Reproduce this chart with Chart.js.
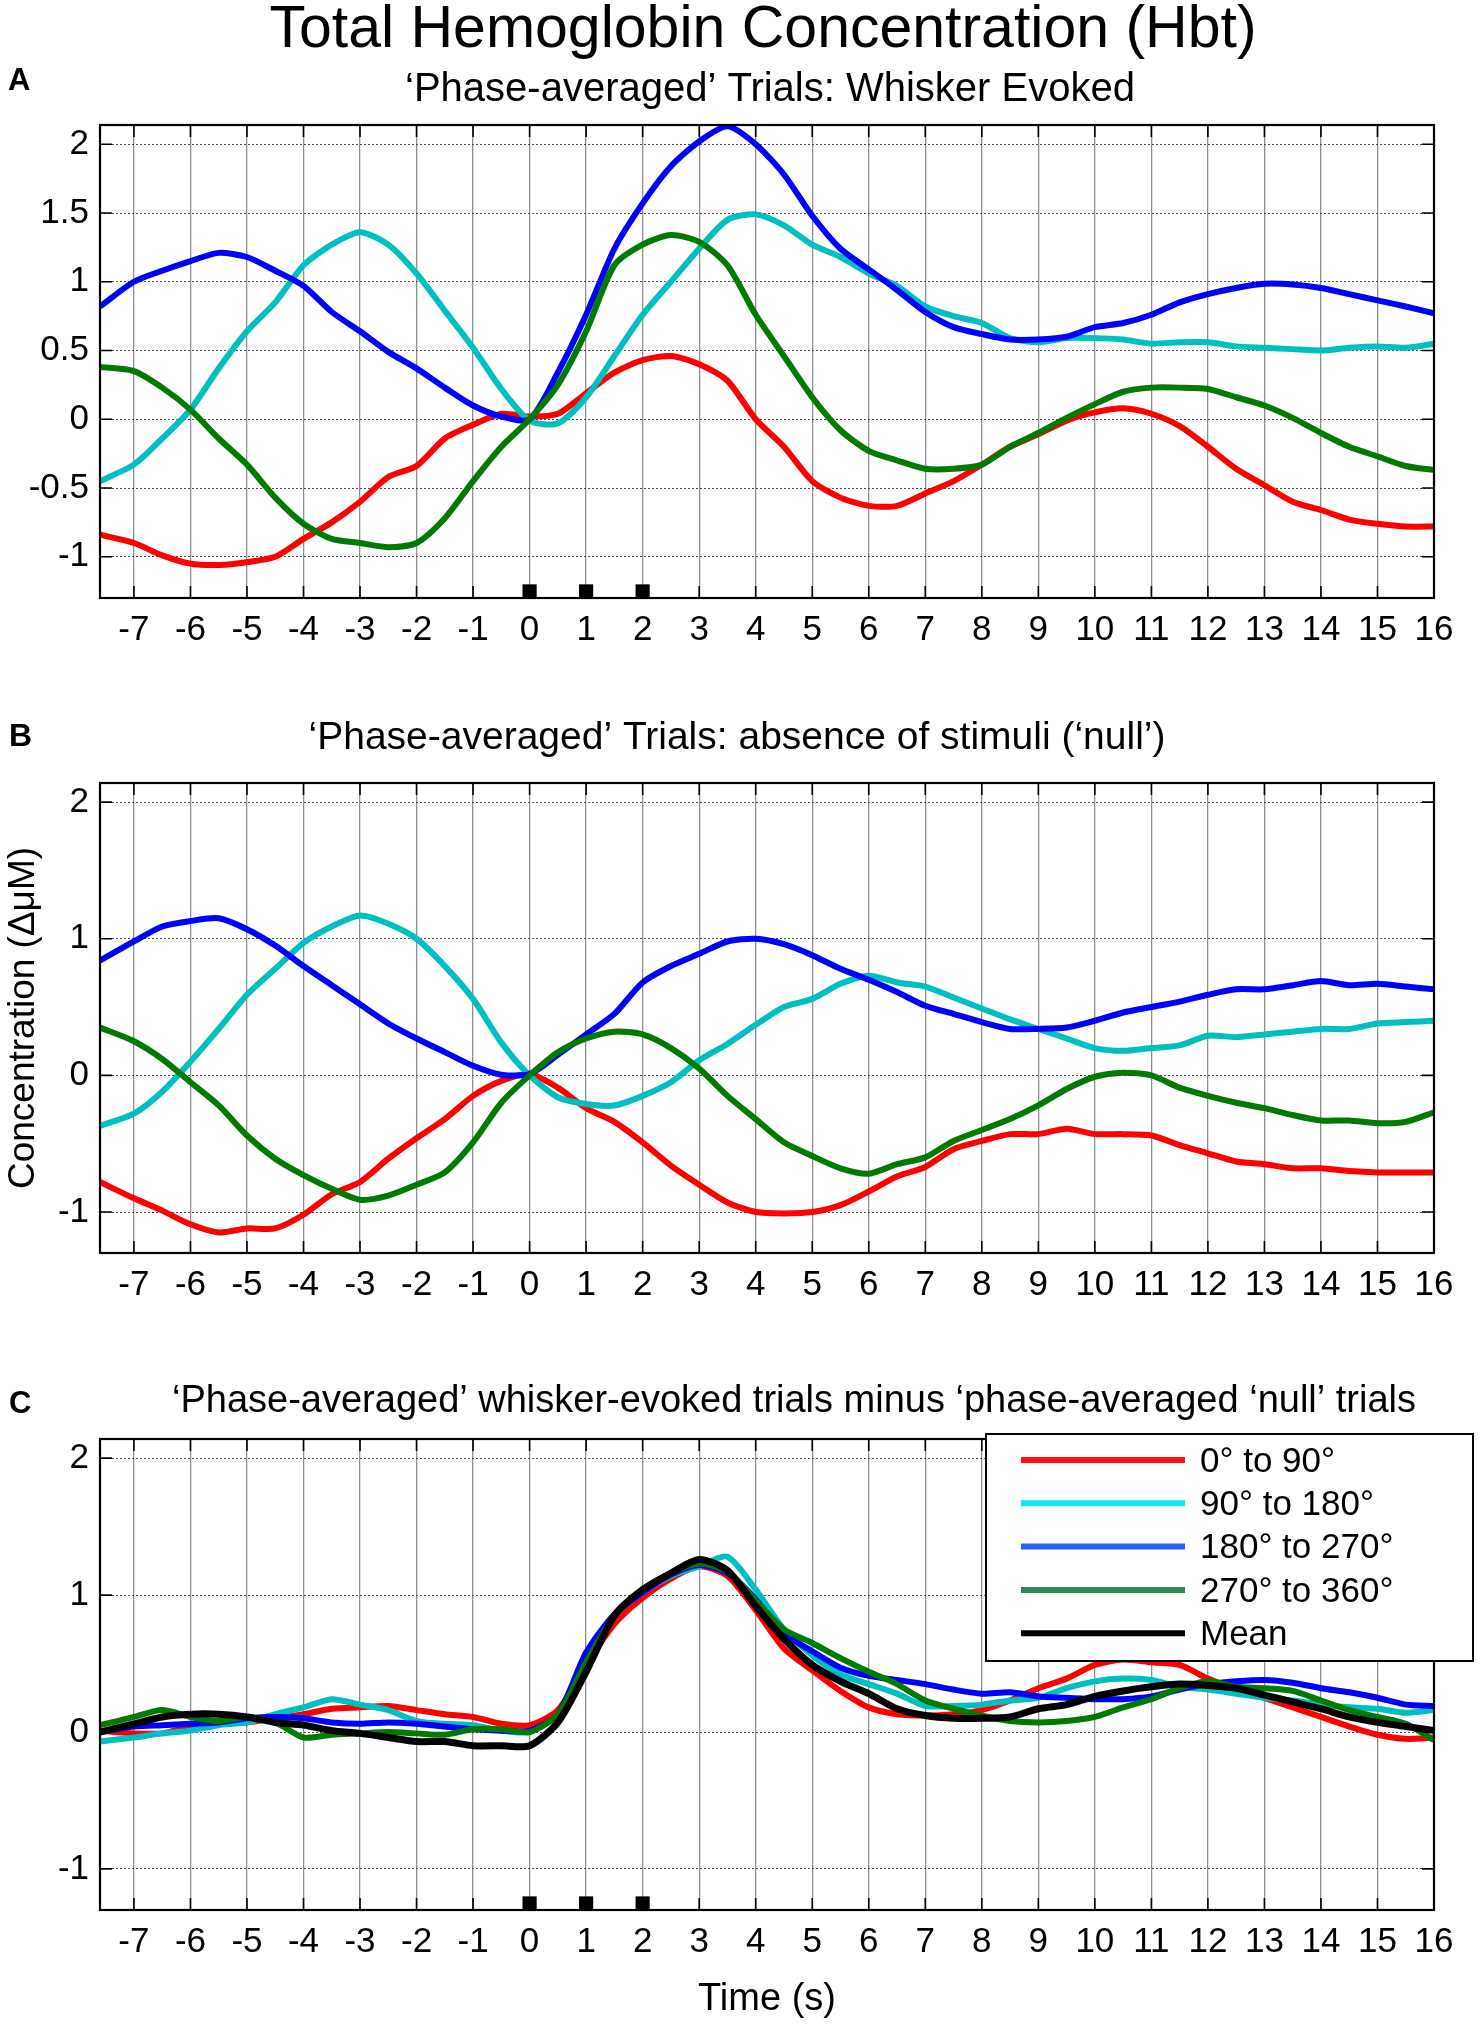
<!DOCTYPE html>
<html>
<head>
<meta charset="utf-8">
<script src="https://cdn.jsdelivr.net/npm/chart.js@4.4.1/dist/chart.umd.min.js"></script>
<style>
  html, body { margin: 0; padding: 0; background: #fff; }
  #wrap { position: relative; width: 1479px; height: 2024px; }
  canvas { position: absolute; left: 0; }
</style>
</head>
<body>
<div id="wrap">
  <canvas id="panelA" width="1479" height="658" style="top:0px"></canvas>
  <canvas id="panelB" width="1479" height="655" style="top:658px"></canvas>
  <canvas id="panelC" width="1479" height="711" style="top:1313px"></canvas>
</div>
<script>
// time base (s), shared by all three panels
const timeS = [-7.6, -7, -6.5, -6, -5.5, -5, -4.5, -4, -3.5, -3, -2.5, -2, -1.5, -1, -0.5, 0,
  0.5, 1, 1.5, 2, 2.5, 3, 3.5, 4, 4.5, 5, 5.5, 6, 6.5, 7, 7.5, 8,
  8.5, 9, 9.5, 10, 10.5, 11, 11.5, 12, 12.5, 13, 13.5, 14, 14.5, 15, 15.5, 16];

// A: whisker evoked
const evoked0to90 = [-0.84, -0.9, -0.99, -1.05, -1.06, -1.04, -1.0, -0.87, -0.75, -0.60, -0.42, -0.34, -0.14, -0.04, 0.04, 0.02,
  0.04, 0.19, 0.34, 0.43, 0.46, 0.4, 0.28, 0.0, -0.2, -0.45, -0.57, -0.63, -0.63, -0.54, -0.45, -0.33,
  -0.2, -0.11, -0.01, 0.05, 0.08, 0.04, -0.05, -0.2, -0.36, -0.48, -0.6, -0.66, -0.73, -0.76, -0.78, -0.78];
const evoked90to180 = [-0.45, -0.33, -0.14, 0.07, 0.37, 0.64, 0.85, 1.12, 1.27, 1.36, 1.27, 1.06, 0.79, 0.52, 0.22, -0.01,
  -0.03, 0.16, 0.46, 0.76, 1.0, 1.24, 1.45, 1.49, 1.41, 1.27, 1.18, 1.06, 0.97, 0.82, 0.75, 0.70,
  0.59, 0.56, 0.59, 0.59, 0.58, 0.55, 0.56, 0.56, 0.53, 0.52, 0.51, 0.5, 0.52, 0.53, 0.52, 0.55];
const evoked180to270 = [0.82, 1.0, 1.08, 1.15, 1.21, 1.18, 1.08, 0.97, 0.78, 0.64, 0.49, 0.37, 0.23, 0.10, 0.02, 0.0,
  0.34, 0.76, 1.24, 1.57, 1.84, 2.02, 2.13, 2.0, 1.78, 1.48, 1.24, 1.09, 0.94, 0.78, 0.67, 0.62,
  0.58, 0.58, 0.6, 0.67, 0.70, 0.76, 0.85, 0.91, 0.955, 0.985, 0.98, 0.955, 0.91, 0.865, 0.82, 0.77];
const evoked270to360 = [0.38, 0.35, 0.23, 0.07, -0.14, -0.33, -0.57, -0.76, -0.87, -0.90, -0.93, -0.90, -0.72, -0.45, -0.2, 0.0,
  0.25, 0.64, 1.12, 1.27, 1.34, 1.29, 1.12, 0.76, 0.46, 0.16, -0.08, -0.23, -0.30, -0.36, -0.36, -0.33,
  -0.2, -0.1, 0.01, 0.11, 0.2, 0.23, 0.23, 0.22, 0.16, 0.1, 0.01, -0.1, -0.2, -0.27, -0.34, -0.37];

// B: absence of stimuli ('null')
const null0to90 = [-0.78, -0.9, -0.99, -1.09, -1.15, -1.12, -1.12, -1.02, -0.87, -0.78, -0.61, -0.46, -0.32, -0.15, -0.04, 0.01,
  -0.09, -0.24, -0.34, -0.49, -0.66, -0.80, -0.93, -1.0, -1.01, -1.0, -0.95, -0.85, -0.74, -0.67, -0.54, -0.48,
  -0.43, -0.43, -0.39, -0.43, -0.43, -0.44, -0.51, -0.57, -0.63, -0.65, -0.68, -0.68, -0.70, -0.71, -0.71, -0.71];
const null90to180 = [-0.37, -0.28, -0.12, 0.10, 0.34, 0.59, 0.78, 0.97, 1.09, 1.17, 1.11, 1.0, 0.80, 0.56, 0.24, 0.0,
  -0.16, -0.21, -0.22, -0.15, -0.05, 0.11, 0.23, 0.37, 0.50, 0.56, 0.67, 0.73, 0.68, 0.65, 0.57, 0.49,
  0.41, 0.34, 0.27, 0.20, 0.18, 0.20, 0.22, 0.29, 0.28, 0.30, 0.32, 0.34, 0.34, 0.38, 0.39, 0.40];
const null180to270 = [0.84, 0.98, 1.09, 1.13, 1.15, 1.07, 0.95, 0.80, 0.66, 0.52, 0.38, 0.27, 0.17, 0.07, 0.005, 0.01,
  0.15, 0.30, 0.45, 0.68, 0.80, 0.89, 0.98, 1.0, 0.96, 0.88, 0.78, 0.70, 0.61, 0.51, 0.45, 0.39,
  0.34, 0.34, 0.35, 0.40, 0.46, 0.50, 0.54, 0.59, 0.63, 0.63, 0.66, 0.69, 0.66, 0.67, 0.65, 0.63];
const null270to360 = [0.35, 0.25, 0.12, -0.05, -0.22, -0.44, -0.61, -0.73, -0.83, -0.91, -0.88, -0.80, -0.71, -0.49, -0.20, 0.0,
  0.17, 0.27, 0.32, 0.30, 0.20, 0.05, -0.15, -0.32, -0.49, -0.59, -0.68, -0.72, -0.65, -0.60, -0.48, -0.40,
  -0.32, -0.22, -0.10, -0.01, 0.02, 0.0, -0.09, -0.15, -0.20, -0.24, -0.29, -0.33, -0.33, -0.35, -0.34, -0.27];

// C: evoked minus null
const diff0to90 = [0.01, -0.01, -0.01, 0.04, 0.07, 0.07, 0.10, 0.13, 0.17, 0.18, 0.19, 0.16, 0.13, 0.11, 0.06, 0.05,
  0.16, 0.49, 0.79, 0.98, 1.12, 1.21, 1.14, 0.89, 0.61, 0.45, 0.30, 0.18, 0.13, 0.12, 0.13, 0.16,
  0.23, 0.32, 0.39, 0.49, 0.53, 0.51, 0.49, 0.39, 0.31, 0.25, 0.18, 0.11, 0.04, -0.02, -0.05, -0.04];
const diff90to180 = [-0.07, -0.04, -0.01, 0.01, 0.05, 0.07, 0.13, 0.18, 0.24, 0.20, 0.16, 0.08, 0.06, 0.05, 0.01, 0.0,
  0.13, 0.49, 0.85, 1.02, 1.14, 1.21, 1.28, 1.04, 0.75, 0.56, 0.42, 0.35, 0.28, 0.19, 0.19, 0.20,
  0.23, 0.25, 0.32, 0.37, 0.39, 0.38, 0.33, 0.31, 0.28, 0.25, 0.23, 0.20, 0.18, 0.17, 0.14, 0.16];
const diff180to270 = [0.0, 0.04, 0.05, 0.06, 0.07, 0.10, 0.11, 0.10, 0.07, 0.06, 0.07, 0.06, 0.04, 0.02, 0.01, 0.01,
  0.13, 0.58, 0.86, 1.02, 1.15, 1.22, 1.16, 0.97, 0.72, 0.59, 0.47, 0.41, 0.38, 0.35, 0.31, 0.28,
  0.29, 0.26, 0.25, 0.24, 0.24, 0.26, 0.31, 0.35, 0.37, 0.38, 0.36, 0.32, 0.29, 0.25, 0.20, 0.19];
const diff270to360 = [0.05, 0.11, 0.16, 0.11, 0.08, 0.11, 0.07, -0.04, -0.02, -0.01, 0.0, -0.01, -0.02, 0.02, 0.02, 0.0,
  0.13, 0.51, 0.85, 1.04, 1.16, 1.23, 1.17, 0.96, 0.75, 0.65, 0.54, 0.44, 0.35, 0.23, 0.17, 0.12,
  0.08, 0.07, 0.08, 0.11, 0.18, 0.24, 0.32, 0.37, 0.33, 0.32, 0.30, 0.23, 0.16, 0.11, 0.06, -0.06];
const diffMean = [0.0, 0.06, 0.11, 0.13, 0.13, 0.11, 0.07, 0.05, 0.01, -0.01, -0.04, -0.07, -0.07, -0.10, -0.10, -0.10,
  0.07, 0.44, 0.85, 1.04, 1.16, 1.26, 1.18, 0.92, 0.68, 0.49, 0.37, 0.28, 0.17, 0.12, 0.10, 0.10,
  0.11, 0.17, 0.20, 0.26, 0.30, 0.33, 0.35, 0.34, 0.32, 0.27, 0.22, 0.17, 0.11, 0.07, 0.04, 0.01];

// stimulus times (whisker deflections) and level of the marks
const stimTimes = [0, 1, 2];
const stimLevel = -1.252;

const phaseLabels = ["0\u00b0 to 90\u00b0", "90\u00b0 to 180\u00b0", "180\u00b0 to 270\u00b0", "270\u00b0 to 360\u00b0"];
const xTickVals = [-7, -6, -5, -4, -3, -2, -1, 0, 1, 2, 3, 4, 5, 6, 7, 8, 9, 10, 11, 12, 13, 14, 15, 16];
const yTicksA = [-1, -0.5, 0, 0.5, 1, 1.5, 2];
const yTicksBC = [-1, 0, 1, 2];

const FONT = '"Liberation Sans", Arial, Helvetica, sans-serif';
const lineColors = ["#ff0000", "#00bfbf", "#0000ff", "#007a00"];
const legendColors = ["#ff1010", "#10e8e8", "#2d5cff", "#2e8b57", "#000000"];

function series(label, values, color, order) {
  return {
    label, order,
    data: timeS.map((t, i) => ({ x: t, y: values[i] })),
    borderColor: color, backgroundColor: color,
    borderWidth: 6, pointRadius: 0, tension: 0.25, fill: false
  };
}

function stimSet() {
  return {
    label: "stim", order: 0, showLine: false,
    data: stimTimes.map(t => ({ x: t, y: stimLevel })),
    pointStyle: "rect", pointRadius: 10, pointHoverRadius: 10,
    backgroundColor: "#000", borderColor: "#000", borderWidth: 0
  };
}

// frame, inward ticks, texts, legend
const panelDeco = {
  id: "panelDeco",
  afterDraw(chart, args, opts) {
    const ctx = chart.ctx;
    const a = chart.chartArea;
    const xs = chart.scales.x, ys = chart.scales.y;
    ctx.save();
    ctx.strokeStyle = "#000";
    ctx.lineWidth = 1.6;
    ctx.beginPath();
    xs.ticks.forEach(t => {
      const px = xs.getPixelForValue(t.value);
      ctx.moveTo(px, a.bottom); ctx.lineTo(px, a.bottom - 12);
      ctx.moveTo(px, a.top); ctx.lineTo(px, a.top + 12);
    });
    ys.ticks.forEach(t => {
      const py = ys.getPixelForValue(t.value);
      ctx.moveTo(a.left, py); ctx.lineTo(a.left + 12, py);
      ctx.moveTo(a.right, py); ctx.lineTo(a.right - 12, py);
    });
    ctx.stroke();
    ctx.lineWidth = 2.2;
    ctx.strokeRect(a.left, a.top, a.right - a.left, a.bottom - a.top);

    ctx.fillStyle = "#000";
    ctx.textBaseline = "alphabetic";
    (opts.texts || []).forEach(tx => {
      ctx.font = (tx.bold ? "bold " : "") + tx.size + "px " + FONT;
      ctx.textAlign = tx.align || "center";
      ctx.fillText(tx.text, tx.x, tx.y);
    });

    const lg = opts.legend;
    if (lg) {
      ctx.fillStyle = "#fff";
      ctx.fillRect(lg.x, lg.y, lg.w, lg.h);
      ctx.lineWidth = 2;
      ctx.strokeStyle = "#000";
      ctx.strokeRect(lg.x, lg.y, lg.w, lg.h);
      const items = chart.data.datasets.filter(d => d.legendColor);
      items.sort((p, q) => p.legendIndex - q.legendIndex);
      ctx.font = "35px " + FONT;
      ctx.textAlign = "left";
      ctx.textBaseline = "middle";
      items.forEach((d, i) => {
        const yy = lg.firstY + i * lg.step;
        ctx.strokeStyle = d.legendColor;
        ctx.lineWidth = 6;
        ctx.beginPath();
        ctx.moveTo(lg.x + 35, yy); ctx.lineTo(lg.x + 199, yy);
        ctx.stroke();
        ctx.fillStyle = "#000";
        ctx.fillText(d.label, lg.x + 214, yy + 2);
      });
    }
    ctx.restore();
  }
};

function makePanel(id, datasets, yTicks, extra) {
  const xScale = {
    type: "linear", min: -7.6, max: 16,
    afterBuildTicks: s => { s.ticks = xTickVals.map(v => ({ value: v })); },
    afterFit: s => { s.height = extra.xHeight; },
    ticks: { autoSkip: false, maxRotation: 0, color: "#000", padding: 11,
      font: { family: FONT, size: 35 }, callback: v => String(v) },
    grid: { color: "#8f8f8f", lineWidth: 1.3, drawTicks: false },
    border: { display: false }
  };
  if (extra.xTitle) {
    xScale.title = { display: true, text: extra.xTitle, color: "#000",
      font: { family: FONT, size: 38 }, padding: { top: 4, bottom: 2 } };
  }
  const yScale = {
    type: "linear", min: -1.3, max: 2.14,
    afterBuildTicks: s => { s.ticks = yTicks.map(v => ({ value: v })); },
    afterFit: s => { s.width = 100; },
    ticks: { color: "#000", padding: 11, font: { family: FONT, size: 35 }, callback: v => String(v) },
    grid: { color: "#4a4a4a", lineWidth: 1, drawTicks: false },
    border: { display: false, dash: [2, 2] }
  };
  if (extra.yTitle) {
    yScale.title = { display: true, text: extra.yTitle, color: "#000",
      font: { family: FONT, size: 37 }, padding: { top: 2, bottom: 4 } };
  }
  return new Chart(document.getElementById(id), {
    type: "line",
    data: { datasets },
    options: {
      responsive: false, animation: false, devicePixelRatio: 1,
      layout: { padding: { top: extra.top, left: 0, right: 45, bottom: 0 } },
      scales: { x: xScale, y: yScale },
      plugins: {
        legend: { display: false }, tooltip: { enabled: false },
        panelDeco: { texts: extra.texts, legend: extra.legend }
      }
    },
    plugins: [panelDeco]
  });
}

makePanel("panelA", [
  series(phaseLabels[0], evoked0to90, lineColors[0], 5),
  series(phaseLabels[1], evoked90to180, lineColors[1], 4),
  series(phaseLabels[2], evoked180to270, lineColors[2], 3),
  series(phaseLabels[3], evoked270to360, lineColors[3], 2),
  stimSet()
], yTicksA, {
  top: 125, xHeight: 60,
  texts: [
    { text: "Total Hemoglobin Concentration (Hbt)", x: 763, y: 47, size: 59 },
    { text: "A", x: 8, y: 90, size: 31, bold: true, align: "left" },
    { text: "\u2018Phase-averaged\u2019 Trials: Whisker Evoked", x: 770, y: 101, size: 40 }
  ]
});

makePanel("panelB", [
  series(phaseLabels[0], null0to90, lineColors[0], 5),
  series(phaseLabels[1], null90to180, lineColors[1], 4),
  series(phaseLabels[2], null180to270, lineColors[2], 3),
  series(phaseLabels[3], null270to360, lineColors[3], 2)
], yTicksBC, {
  top: 125, xHeight: 60, yTitle: "Concentration (\u0394\u03bcM)",
  texts: [
    { text: "B", x: 9, y: 88, size: 32, bold: true, align: "left" },
    { text: "\u2018Phase-averaged\u2019 Trials: absence of stimuli (\u2018null\u2019)", x: 737, y: 91, size: 39 }
  ]
});

const cSets = [
  series(phaseLabels[0], diff0to90, lineColors[0], 5),
  series(phaseLabels[1], diff90to180, lineColors[1], 4),
  series(phaseLabels[2], diff180to270, lineColors[2], 3),
  series(phaseLabels[3], diff270to360, lineColors[3], 2),
  series("Mean", diffMean, "#000000", 1),
  stimSet()
];
cSets.slice(0, 5).forEach((d, i) => { d.legendColor = legendColors[i]; d.legendIndex = i; });
cSets[4].borderWidth = 7;

makePanel("panelC", cSets, yTicksBC, {
  top: 126, xHeight: 114, xTitle: "Time (s)",
  texts: [
    { text: "C", x: 9, y: 100, size: 31, bold: true, align: "left" },
    { text: "\u2018Phase-averaged\u2019 whisker-evoked trials minus \u2018phase-averaged \u2018null\u2019 trials", x: 794, y: 99, size: 38 }
  ],
  legend: { x: 986, y: 121, w: 487, h: 227, firstY: 147, step: 43.3 }
});
</script>
</body>
</html>
